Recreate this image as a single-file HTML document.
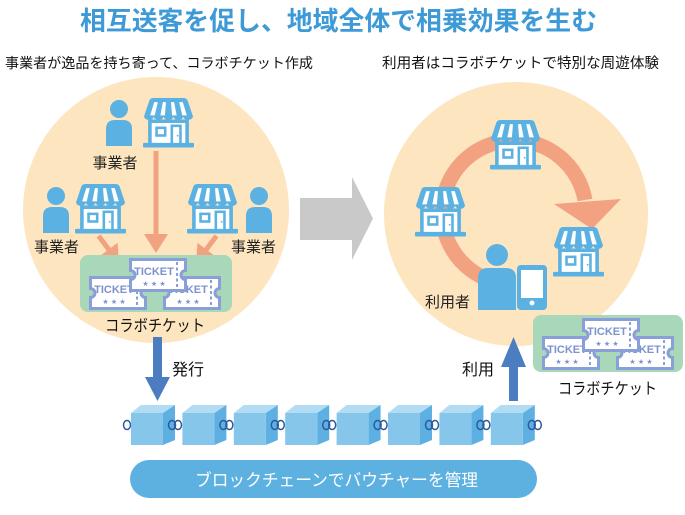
<!DOCTYPE html>
<html><head><meta charset="utf-8"><style>
html,body{margin:0;padding:0;background:#fff;}
svg{display:block;}
text{font-family:"Liberation Sans","Noto Sans CJK JP",sans-serif;}
</style></head><body>
<svg width="685" height="515" viewBox="0 0 685 515" xmlns="http://www.w3.org/2000/svg">
<defs>
<symbol id="st" viewBox="0 0 52 50">
<path d="M2,19 L7,4 Q8,1 11,1 H41 Q44,1 45,4 L50,19 A4.8,3.5 0 0 1 40.4,19 A4.8,3.5 0 0 1 30.8,19 A4.8,3.5 0 0 1 21.2,19 A4.8,3.5 0 0 1 11.6,19 A4.8,3.5 0 0 1 2,19 Z" fill="#5bb1e1"/>
<polygon points="12,5 15.5,5 12.5,18 8,18" fill="#fff"/>
<polygon points="20.5,5 23.5,5 22.5,18 18,18" fill="#fff"/>
<polygon points="28.5,5 31.5,5 34,18 29.5,18" fill="#fff"/>
<polygon points="36.5,5 40,5 44,18 39.5,18" fill="#fff"/>
<rect x="6" y="22" width="40" height="24" fill="#5bb1e1"/>
<rect x="9.5" y="25.5" width="33" height="20" fill="#fff"/>
<rect x="13" y="29" width="11" height="10" fill="#5bb1e1"/>
<rect x="15.5" y="31.5" width="6" height="5" fill="#fff"/>
<rect x="28" y="27" width="11" height="19" fill="#5bb1e1"/>
<rect x="30.5" y="29.5" width="6" height="16.5" fill="#fff"/>
<circle cx="35" cy="38" r="0.9" fill="#5bb1e1"/>
<rect x="1" y="45" width="50" height="4.5" rx="1" fill="#5bb1e1"/>
</symbol>
<g id="tk">
<path d="M1.5,1.5 H56.5 V12.5 A4.5,4.5 0 0 0 56.5,21.5 V32.5 H1.5 V21.5 A4.5,4.5 0 0 0 1.5,12.5 Z" fill="#fff" stroke="#8a9ed8" stroke-width="3"/>
<line x1="48" y1="4" x2="48" y2="31" stroke="#8a9ed8" stroke-width="2" stroke-dasharray="3 2.5"/>
<text x="25" y="17" font-size="11" font-weight="700" fill="#7d92cf" text-anchor="middle">TICKET</text>
<text x="25" y="28" font-size="7" fill="#7d92cf" text-anchor="middle" style="font-family:'DejaVu Sans',sans-serif">★ ★ ★</text>
</g>
<g id="cube">
<polygon points="0,413 32,413 44,405 10,405" fill="#b1dcf3"/>
<polygon points="32,413 44,405 44,440 32,445" fill="#5eb0e2"/>
<rect x="0" y="413" width="32" height="32" fill="#86c6ea"/>
<ellipse cx="41" cy="425" rx="3.5" ry="4.5" fill="none" stroke="#2d5a9e" stroke-width="1.5"/>
<ellipse cx="47" cy="425" rx="3.5" ry="4.5" fill="none" stroke="#2d5a9e" stroke-width="1.5"/>
</g>
</defs>

<!-- title -->
<text x="338.5" y="30" font-size="26" font-weight="700" fill="#3d9ad7" text-anchor="middle" textLength="517" lengthAdjust="spacingAndGlyphs">相互送客を促し、地域全体で相乗効果を生む</text>
<text x="5" y="68" font-size="14" fill="#111" textLength="308" lengthAdjust="spacingAndGlyphs">事業者が逸品を持ち寄って、コラボチケット作成</text>
<text x="382" y="68" font-size="14.5" fill="#111" textLength="277" lengthAdjust="spacingAndGlyphs">利用者はコラボチケットで特別な周遊体験</text>

<!-- circles -->
<circle cx="156" cy="210" r="133" fill="#fde5bf"/>
<circle cx="516" cy="214" r="132" fill="#fde5bf"/>

<!-- gray arrow -->
<polygon points="300,198 352,198 352,177 373,218.5 352,260 352,240 300,240" fill="#c9c9c9"/>

<!-- left salmon arrows -->
<rect x="153.5" y="151" width="5" height="86" fill="#f2a281"/>
<polygon points="144,234 168,234 156,253" fill="#f2a281"/>
<g transform="translate(119,263) rotate(-37)">
<rect x="-2.5" y="-34" width="5" height="20" fill="#f2a281"/>
<polygon points="-11,-17 11,-17 0,0" fill="#f2a281"/>
</g>
<g transform="translate(196,263) rotate(37)">
<rect x="-2.5" y="-34" width="5" height="20" fill="#f2a281"/>
<polygon points="-11,-17 11,-17 0,0" fill="#f2a281"/>
</g>

<!-- left persons -->
<g fill="#5bb1e1">
<circle cx="119" cy="109" r="9"/>
<path d="M106,146 V129 Q106,120 115,120 H123 Q132,120 132,129 V146 Z"/>
<circle cx="56" cy="196" r="9"/>
<path d="M43,233 V216 Q43,207 52,207 H60 Q69,207 69,216 V233 Z"/>
<circle cx="259" cy="196" r="9"/>
<path d="M246,233 V216 Q246,207 255,207 H263 Q272,207 272,216 V233 Z"/>
</g>

<!-- right ring arrow -->
<path d="M492,281 A72,72 0 1 1 585,200" fill="none" stroke="#f2a281" stroke-width="15"/>
<polygon points="554,204 621,199 592,229" fill="#f2a281"/>

<!-- stores -->
<use href="#st" x="142" y="97" width="53" height="51"/>
<use href="#st" x="74" y="183" width="53" height="51"/>
<use href="#st" x="186" y="183" width="53" height="51"/>
<use href="#st" x="489" y="119" width="53" height="51"/>
<use href="#st" x="414" y="186" width="53" height="51"/>
<use href="#st" x="552" y="226" width="53" height="51"/>

<!-- right person + phone -->
<g fill="#5bb1e1">
<circle cx="497" cy="255" r="11"/>
<path d="M478,310 V278 Q478,268 488,268 H506 Q516,268 516,278 V310 Z"/>
<rect x="517" y="265" width="30" height="45" rx="4"/>
</g>
<rect x="521" y="270" width="22" height="28" fill="#fff"/>
<circle cx="532" cy="303" r="2.5" fill="#fff"/>

<!-- labels -->
<text x="115" y="168" font-size="15" fill="#222" text-anchor="middle">事業者</text>
<text x="56.5" y="252" font-size="15" fill="#222" text-anchor="middle">事業者</text>
<text x="253.5" y="252" font-size="15" fill="#222" text-anchor="middle">事業者</text>
<text x="447.5" y="307" font-size="15" fill="#222" text-anchor="middle">利用者</text>

<!-- green boxes + tickets -->
<rect x="80" y="255" width="152" height="57" rx="8" fill="#a8d8b9"/>
<use href="#tk" x="89" y="276"/>
<use href="#tk" x="163" y="276"/>
<use href="#tk" x="129" y="258"/>
<rect x="533" y="315" width="150" height="57" rx="8" fill="#a8d8b9"/>
<use href="#tk" x="542" y="336"/>
<use href="#tk" x="616" y="336"/>
<use href="#tk" x="582" y="318"/>

<text x="105" y="331" font-size="16" fill="#111" textLength="100" lengthAdjust="spacingAndGlyphs">コラボチケット</text>
<text x="558" y="394" font-size="16" fill="#111" textLength="99" lengthAdjust="spacingAndGlyphs">コラボチケット</text>

<!-- blue arrows -->
<rect x="153" y="337" width="9" height="42" fill="#4b7dc0"/>
<polygon points="145,377 170,377 157.5,401" fill="#4b7dc0"/>
<rect x="509" y="365" width="9" height="36" fill="#4b7dc0"/>
<polygon points="501,367 526,367 513.5,337" fill="#4b7dc0"/>
<text x="172" y="375" font-size="16" fill="#111">発行</text>
<text x="462" y="375" font-size="16" fill="#111">利用</text>

<!-- chain -->
<ellipse cx="127" cy="425" rx="3.5" ry="4.5" fill="none" stroke="#2d5a9e" stroke-width="1.5"/>
<use href="#cube" x="131" y="0"/>
<use href="#cube" x="182.4" y="0"/>
<use href="#cube" x="233.8" y="0"/>
<use href="#cube" x="285.2" y="0"/>
<use href="#cube" x="336.6" y="0"/>
<use href="#cube" x="388" y="0"/>
<use href="#cube" x="439.4" y="0"/>
<use href="#cube" x="490.8" y="0"/>

<!-- bar -->
<rect x="130" y="460" width="407" height="38" rx="19" fill="#5db1e1"/>
<text x="336.5" y="486" font-size="17" fill="#fff" text-anchor="middle" textLength="283" lengthAdjust="spacingAndGlyphs">ブロックチェーンでバウチャーを管理</text>
</svg>
</body></html>
